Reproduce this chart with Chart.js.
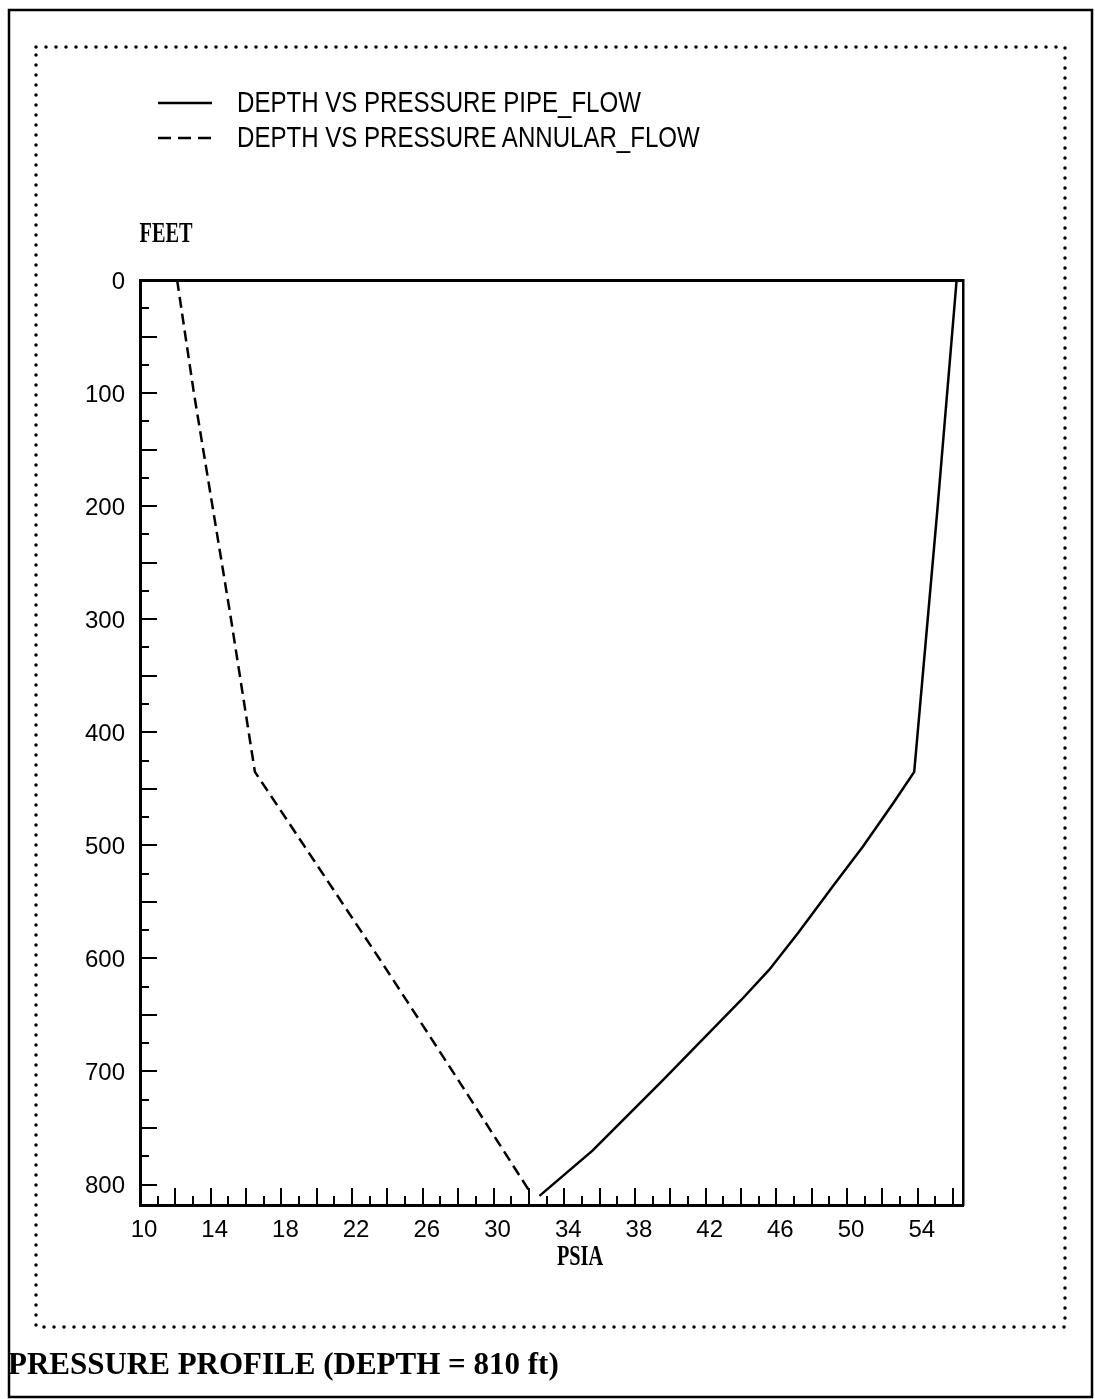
<!DOCTYPE html>
<html>
<head>
<meta charset="utf-8">
<title>Pressure profile</title>
<script src="https://cdn.jsdelivr.net/npm/chart.js@4.4.1/dist/chart.umd.min.js"></script>
<style>
  html, body { margin: 0; padding: 0; background: #fff; }
  #wrap { position: relative; width: 1095px; height: 1399px; overflow: hidden; }
  #plot { position: absolute; left: 0; top: 0; }
  #key { position: absolute; left: 158px; top: 85px; font-family: "Liberation Sans", Arial, sans-serif; font-size: 29px; color: #000; }
  #key .row { position: relative; height: 35px; line-height: 35px; white-space: nowrap; width: 700px; }
  #key svg { position: absolute; left: 0; top: 16px; }
  #key span { position: absolute; left: 79px; top: 0; transform: scaleX(0.83); transform-origin: 0 50%; }
</style>
</head>
<body>
<div id="wrap">
  <canvas id="plot" width="1095" height="1399"></canvas>
  <div id="key"></div>
</div>
<script>
// Flowing pressure (psia) against depth (ft): down the tubing, back up the annulus
const pipeFlowPsia     = [56.2, 55.1, 53.8, 52.6, 50.9, 49.25, 47.25, 45.6, 44.0, 39.5, 35.6, 32.6];
const pipeFlowDepth    = [0, 205, 435, 463, 501, 535, 577, 610, 637, 709, 770, 810];
const annularFlowPsia  = [12.1, 13.05, 14.1, 15.15, 16.15, 16.5, 19.4, 23.7, 27.9, 32.0];
const annularFlowDepth = [0, 100, 200, 300, 400, 435, 503, 604, 705, 805];

const seriesLabels   = ['DEPTH VS PRESSURE PIPE_FLOW', 'DEPTH VS PRESSURE ANNULAR_FLOW'];
const psiaTickLabels = [10, 14, 18, 22, 26, 30, 34, 38, 42, 46, 50, 54];
const feetTickLabels = [0, 100, 200, 300, 400, 500, 600, 700, 800];
const psiaRange      = [10, 56.56];
const feetRange      = [0, 818.1];
const xAxisName      = 'PSIA';
const yAxisName      = 'FEET';
const chartTitle     = 'PRESSURE PROFILE (DEPTH = 810 ft)';

const toPoints = (xs, ys) => xs.map((x, i) => ({ x: x, y: ys[i] }));
const near = (a, b) => Math.abs(a - b) < 1e-6;

// page frame: solid outer box and dotted inner box
const pageFrame = {
  id: 'pageFrame',
  beforeDraw(chart) {
    const ctx = chart.ctx;
    ctx.save();
    ctx.fillStyle = '#fff';
    ctx.fillRect(0, 0, chart.width, chart.height);
    ctx.strokeStyle = '#000';
    ctx.lineWidth = 2.5;
    ctx.strokeRect(9, 10, 1083, 1387);
    ctx.lineWidth = 3.5;
    ctx.lineCap = 'round';
    ctx.setLineDash([0, 10]);
    ctx.strokeRect(36, 47, 1029, 1280);
    ctx.restore();
  }
};

// inward tick marks: long on even psia / every 50 ft, short in between
const innerTicks = {
  id: 'innerTicks',
  afterDraw(chart) {
    const { ctx, chartArea: a } = chart;
    const xs = chart.scales.x, ys = chart.scales.y;
    ctx.save();
    ctx.strokeStyle = '#000';
    ctx.lineWidth = 2;
    ctx.beginPath();
    xs.ticks.forEach(t => {
      const v = t.value;
      if (!near(v, Math.round(v))) return;
      const px = Math.round(xs.getPixelForValue(v));
      const len = Math.round(v) % 2 === 0 ? 17 : 9;
      ctx.moveTo(px, a.bottom);
      ctx.lineTo(px, a.bottom - len);
    });
    ys.ticks.forEach(t => {
      const v = t.value;
      if (!near(v / 25, Math.round(v / 25))) return;
      const py = Math.round(ys.getPixelForValue(v));
      const len = Math.round(v) % 50 === 0 ? 17 : 9;
      ctx.moveTo(a.left, py);
      ctx.lineTo(a.left + len, py);
    });
    ctx.stroke();

    // axis names in a narrow serif face
    const axisName = (text, cx, cy) => {
      ctx.save();
      ctx.fillStyle = '#000';
      ctx.font = 'bold 29px "Liberation Serif", serif';
      ctx.textAlign = 'center';
      ctx.textBaseline = 'middle';
      ctx.translate(cx, cy);
      ctx.scale(0.7, 1);
      ctx.fillText(text, 0, 0);
      ctx.restore();
    };
    axisName(yAxisName, a.left + 26, a.top - 45);
    axisName(xAxisName, a.left + 440, a.bottom + 53);
    ctx.restore();
  }
};

const tickFont = { family: '"Liberation Sans", Arial, sans-serif', size: 24 };

const chart = new Chart(document.getElementById('plot'), {
  type: 'scatter',
  data: {
    datasets: [
      {
        label: seriesLabels[0],
        data: toPoints(pipeFlowPsia, pipeFlowDepth),
        showLine: true,
        borderColor: '#000',
        backgroundColor: '#000',
        borderWidth: 2.5,
        borderDash: [],
        pointRadius: 0,
        tension: 0
      },
      {
        label: seriesLabels[1],
        data: toPoints(annularFlowPsia, annularFlowDepth),
        showLine: true,
        borderColor: '#000',
        backgroundColor: '#000',
        borderWidth: 2.5,
        borderDash: [11, 6],
        pointRadius: 0,
        tension: 0
      }
    ]
  },
  options: {
    responsive: false,
    animation: false,
    events: [],
    layout: { padding: { left: 8, right: 132, top: 280, bottom: 14.4 } },
    scales: {
      x: {
        type: 'linear',
        position: 'bottom',
        min: psiaRange[0],
        max: psiaRange[1],
        grid: { display: false, drawTicks: false },
        border: { display: true, color: '#000', width: 3 },
        ticks: {
          stepSize: 1,
          includeBounds: false,
          autoSkip: false,
          maxRotation: 0,
          padding: 11,
          labelOffset: 4,
          color: '#000',
          font: tickFont,
          callback: v => psiaTickLabels.some(l => near(l, v)) ? String(Math.round(v)) : ''
        },
        afterFit: s => { s.height = 142.4; }
      },
      y: {
        type: 'linear',
        position: 'left',
        reverse: true,
        min: feetRange[0],
        max: feetRange[1],
        grid: { display: false, drawTicks: false },
        border: { display: true, color: '#000', width: 3 },
        ticks: {
          stepSize: 25,
          includeBounds: false,
          autoSkip: false,
          padding: 15,
          labelOffset: 2,
          color: '#000',
          font: tickFont,
          callback: v => feetTickLabels.some(l => near(l, v)) ? String(Math.round(v)) : ''
        },
        afterFit: s => { s.width = 132; }
      },
      xTop: {
        type: 'linear',
        position: 'top',
        display: true,
        min: psiaRange[0],
        max: psiaRange[1],
        grid: { display: false, drawTicks: false },
        border: { display: true, color: '#000', width: 3 },
        ticks: { display: false },
        afterFit: s => { s.height = 0; }
      },
      yRight: {
        type: 'linear',
        position: 'right',
        display: true,
        reverse: true,
        min: feetRange[0],
        max: feetRange[1],
        grid: { display: false, drawTicks: false },
        border: { display: true, color: '#000', width: 2.5 },
        ticks: { display: false },
        afterFit: s => { s.width = 0; }
      }
    },
    plugins: {
      legend: { display: false },
      tooltip: { enabled: false },
      title: {
        display: true,
        text: chartTitle,
        position: 'bottom',
        align: 'start',
        color: '#000',
        padding: 0,
        font: { family: '"Liberation Serif", serif', size: 31, weight: 'bold', lineHeight: 1.2 }
      }
    }
  },
  plugins: [pageFrame, innerTicks]
});

// key built from the datasets' own labels and line styles
const key = document.getElementById('key');
chart.data.datasets.forEach(ds => {
  const row = document.createElement('div');
  row.className = 'row';
  const svgNS = 'http://www.w3.org/2000/svg';
  const svg = document.createElementNS(svgNS, 'svg');
  svg.setAttribute('width', '54');
  svg.setAttribute('height', '4');
  const line = document.createElementNS(svgNS, 'line');
  line.setAttribute('x1', '0');
  line.setAttribute('x2', '54');
  line.setAttribute('y1', '2');
  line.setAttribute('y2', '2');
  line.setAttribute('stroke', ds.borderColor);
  line.setAttribute('stroke-width', ds.borderWidth);
  if (ds.borderDash && ds.borderDash.length) line.setAttribute('stroke-dasharray', '13 7');
  svg.appendChild(line);
  const span = document.createElement('span');
  span.textContent = ds.label;
  row.appendChild(svg);
  row.appendChild(span);
  key.appendChild(row);
});
</script>
</body>
</html>
